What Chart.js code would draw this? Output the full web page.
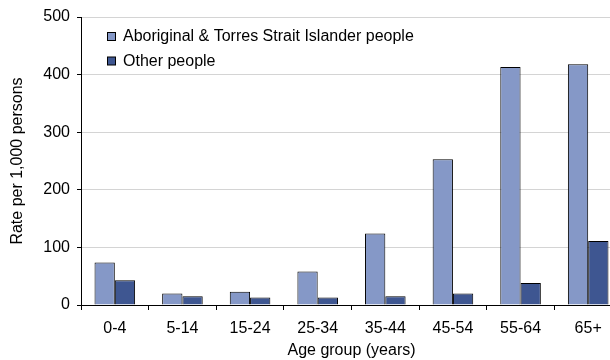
<!DOCTYPE html>
<html lang="en">
<head>
  <meta charset="UTF-8">
  <title>Rate per 1,000 persons by age group</title>
  <script src="https://cdn.jsdelivr.net/npm/chart.js"></script>
  <style>
    html, body { margin: 0; padding: 0; background: #fff; overflow: hidden; }
    .chart-box { width: 622px; height: 360px; }
  </style>
</head>
<body>
  <div class="chart-box">
    <canvas id="barChart" width="622" height="360"></canvas>
  </div>

  <script>
    // Dados do gráfico
    const ageGroups = ['0-4', '5-14', '15-24', '25-34', '35-44', '45-54', '55-64', '65+'];
    const aboriginalRates = [74, 20, 23, 58, 124, 253, 413, 418];
    const otherRates = [43, 15, 13, 13, 15, 20, 38, 111];
    const yTicks = [0, 100, 200, 300, 400, 500];

    const fontFamily = 'Arial, "Liberation Sans", sans-serif';
    const fontSize = 16;
    const lightBlue = '#8598C7';
    const darkBlue = '#3E5691';

    // legenda desenhada dentro da área do gráfico
    const insideLegend = {
      id: 'insideLegend',
      afterDraw(chart) {
        const ctx = chart.ctx;
        ctx.save();
        ctx.font = fontSize + 'px ' + fontFamily;
        ctx.textBaseline = 'middle';
        chart.data.datasets.forEach((ds, i) => {
          const y = 37 + i * 24.5;
          ctx.fillStyle = ds.backgroundColor;
          ctx.fillRect(107.5, y - 4.5, 8, 8);
          ctx.strokeStyle = '#000';
          ctx.lineWidth = 1;
          ctx.strokeRect(107.5, y - 4.5, 8, 8);
          ctx.fillStyle = '#000';
          ctx.fillText(ds.label, 123, y);
        });
        ctx.restore();
      }
    };

    const ctx = document.getElementById('barChart').getContext('2d');
    new Chart(ctx, {
      type: 'bar',
      data: {
        labels: ageGroups,
        datasets: [
          {
            label: 'Aboriginal & Torres Strait Islander people',
            data: aboriginalRates,
            backgroundColor: lightBlue,
            borderColor: '#000',
            borderWidth: 1
          },
          {
            label: 'Other people',
            data: otherRates,
            backgroundColor: darkBlue,
            borderColor: '#000',
            borderWidth: 1
          }
        ]
      },
      options: {
        responsive: false,
        animation: false,
        categoryPercentage: 0.6,
        barPercentage: 1,
        layout: { padding: { top: 17, left: 0, right: 0, bottom: 0 } },
        plugins: {
          legend: { display: false },
          tooltip: { enabled: false }
        },
        scales: {
          x: {
            grid: {
              display: true,
              drawOnChartArea: false,
              offset: true,
              color: '#000',
              tickLength: 5
            },
            border: { color: '#000', width: 1 },
            ticks: {
              color: '#000',
              padding: 9,
              maxRotation: 0,
              font: { family: fontFamily, size: fontSize }
            },
            title: {
              display: true,
              text: 'Age group (years)',
              color: '#000',
              padding: { top: 0, bottom: 0 },
              font: { family: fontFamily, size: fontSize }
            },
            afterFit(scale) { scale.height = 55; }
          },
          y: {
            min: 0,
            max: 500,
            afterBuildTicks(scale) {
              scale.ticks = yTicks.map(v => ({ value: v }));
            },
            grid: {
              color: '#d4d4d4',
              tickColor: '#000',
              tickLength: 4
            },
            border: { color: '#000', width: 1 },
            ticks: {
              color: '#000',
              padding: 7,
              font: { family: fontFamily, size: fontSize }
            },
            title: {
              display: true,
              text: 'Rate per 1,000 persons',
              color: '#000',
              padding: { top: 7.5, bottom: 0 },
              font: { family: fontFamily, size: fontSize }
            },
            afterFit(scale) { scale.width = 81; }
          }
        }
      },
      plugins: [insideLegend]
    });
  </script>
</body>
</html>
